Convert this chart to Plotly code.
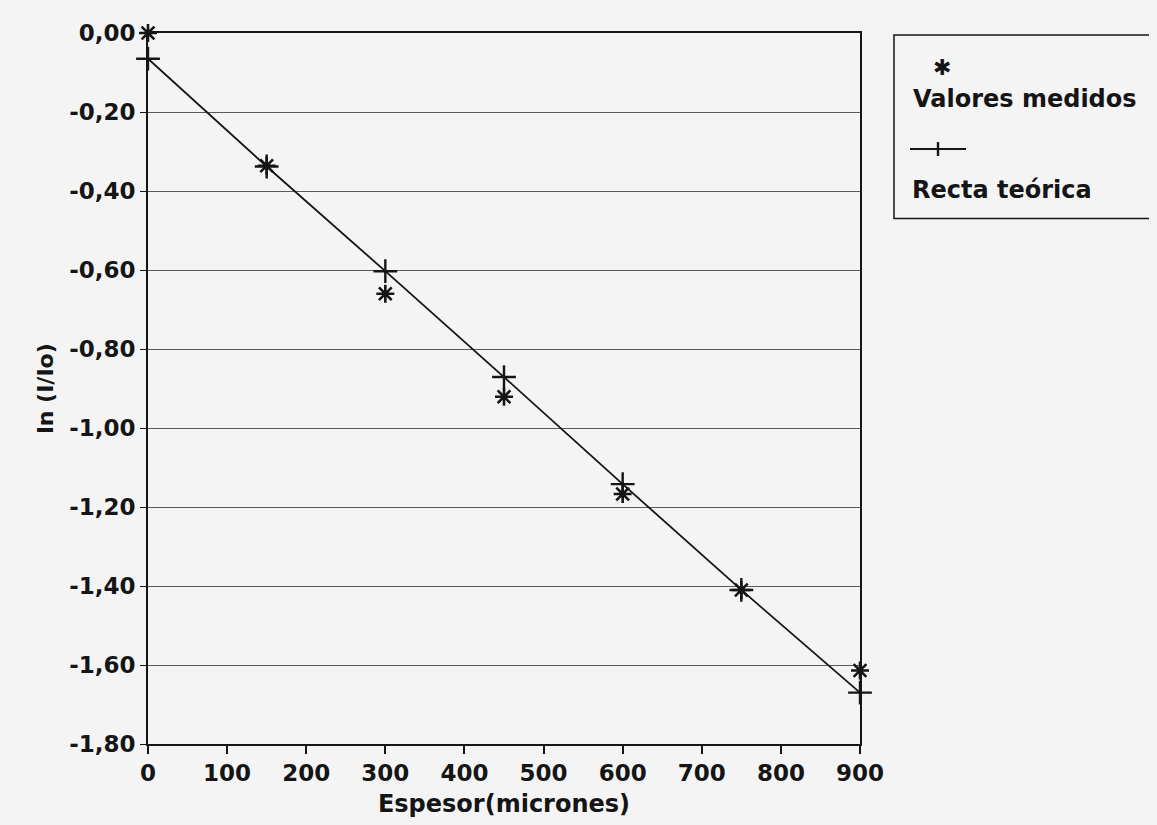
import plotly.graph_objects as go

espesor = [0, 150, 300, 450, 600, 750, 900]
medidos = [0.00, -0.336, -0.66, -0.921, -1.167, -1.41, -1.614]
teorica = [-0.065, -0.338, -0.603, -0.871, -1.142, -1.41, -1.67]

y_ticks = [0.0, -0.2, -0.4, -0.6, -0.8, -1.0, -1.2, -1.4, -1.6, -1.8]
y_labels = ["0,00", "-0,20", "-0,40", "-0,60", "-0,80", "-1,00", "-1,20", "-1,40", "-1,60", "-1,80"]
x_ticks = [0, 100, 200, 300, 400, 500, 600, 700, 800, 900]

legend_names = ["Valores medidos", "Recta teórica"]

FONT = "DejaVu Sans"
INK = "#151515"
BG = "#f4f4f4"

fig = go.Figure()
fig.add_trace(go.Scatter(
    x=espesor, y=medidos, mode="markers", name=legend_names[0],
    cliponaxis=False, showlegend=False,
    marker=dict(symbol="asterisk-open", size=15, color=INK,
                line=dict(color=INK, width=2.6)),
))
fig.add_trace(go.Scatter(
    x=espesor, y=teorica, mode="lines+markers", name=legend_names[1],
    cliponaxis=False, showlegend=False,
    line=dict(color=INK, width=1.8),
    marker=dict(symbol="cross-thin-open", size=17, color=INK,
                line=dict(color=INK, width=2.4)),
))

# --- hand-made legend box (symbol above its label, as in the original) ---
def px(xp):  # page pixel -> paper x
    return (xp - 148) / 712.0

def py(yp):  # page pixel -> paper y
    return (745 - yp) / 717.0

shapes = [
    dict(type="rect", xref="paper", yref="paper",
         x0=px(894), x1=px(1175), y0=py(215), y1=py(30),
         line=dict(color=INK, width=1.5), fillcolor=BG, layer="below"),
    dict(type="line", xref="paper", yref="paper",
         x0=px(910), x1=px(966), y0=py(145), y1=py(145),
         line=dict(color=INK, width=2)),
    dict(type="line", xref="paper", yref="paper",
         x0=px(938), x1=px(938), y0=py(138), y1=py(152),
         line=dict(color=INK, width=2.4)),
]
annotations = [
    dict(text="✱", xref="paper", yref="paper", x=px(942), y=py(63),
         xanchor="center", yanchor="middle", showarrow=False,
         font=dict(family=FONT, size=22, color=INK)),
    dict(text=legend_names[0], xref="paper", yref="paper", x=px(911), y=py(95),
         xanchor="left", yanchor="middle", showarrow=False,
         font=dict(family=FONT, size=24, color=INK, weight="bold")),
    dict(text=legend_names[1], xref="paper", yref="paper", x=px(910), y=py(186),
         xanchor="left", yanchor="middle", showarrow=False,
         font=dict(family=FONT, size=24, color=INK, weight="bold")),
]

fig.update_layout(
    width=1149, height=817,
    margin=dict(l=140, r=297, t=18, b=80),
    paper_bgcolor=BG, plot_bgcolor=BG,
    font=dict(family=FONT, size=22, color=INK, weight="bold"),
    showlegend=False,
    shapes=shapes,
    annotations=annotations,
    xaxis=dict(
        range=[0, 900], tickvals=x_ticks, ticktext=[str(v) for v in x_ticks],
        showgrid=False, zeroline=False,
        showline=True, linecolor=INK, linewidth=1.6, mirror=True,
        ticks="outside", ticklen=8, tickcolor=INK, tickwidth=1.6,
        tickfont=dict(family=FONT, size=23, color=INK, weight="bold"),
        title=dict(text="Espesor(micrones)", standoff=10,
                   font=dict(family=FONT, size=24, color=INK, weight="bold")),
    ),
    yaxis=dict(
        range=[-1.8, 0], tickvals=y_ticks, ticktext=y_labels,
        showgrid=True, gridcolor="#5a5a5a", gridwidth=1,
        zeroline=False,
        showline=True, linecolor=INK, linewidth=1.6, mirror=True,
        ticks="outside", ticklen=6, tickcolor=INK, tickwidth=1.2,
        tickfont=dict(family=FONT, size=23, color=INK, weight="bold"),
        title=dict(text="ln (I/Io)", standoff=10,
                   font=dict(family=FONT, size=22, color=INK, weight="bold")),
    ),
)

fig.write_html("out.html",
               post_script="document.body.style.background='#f4f4f4';")
